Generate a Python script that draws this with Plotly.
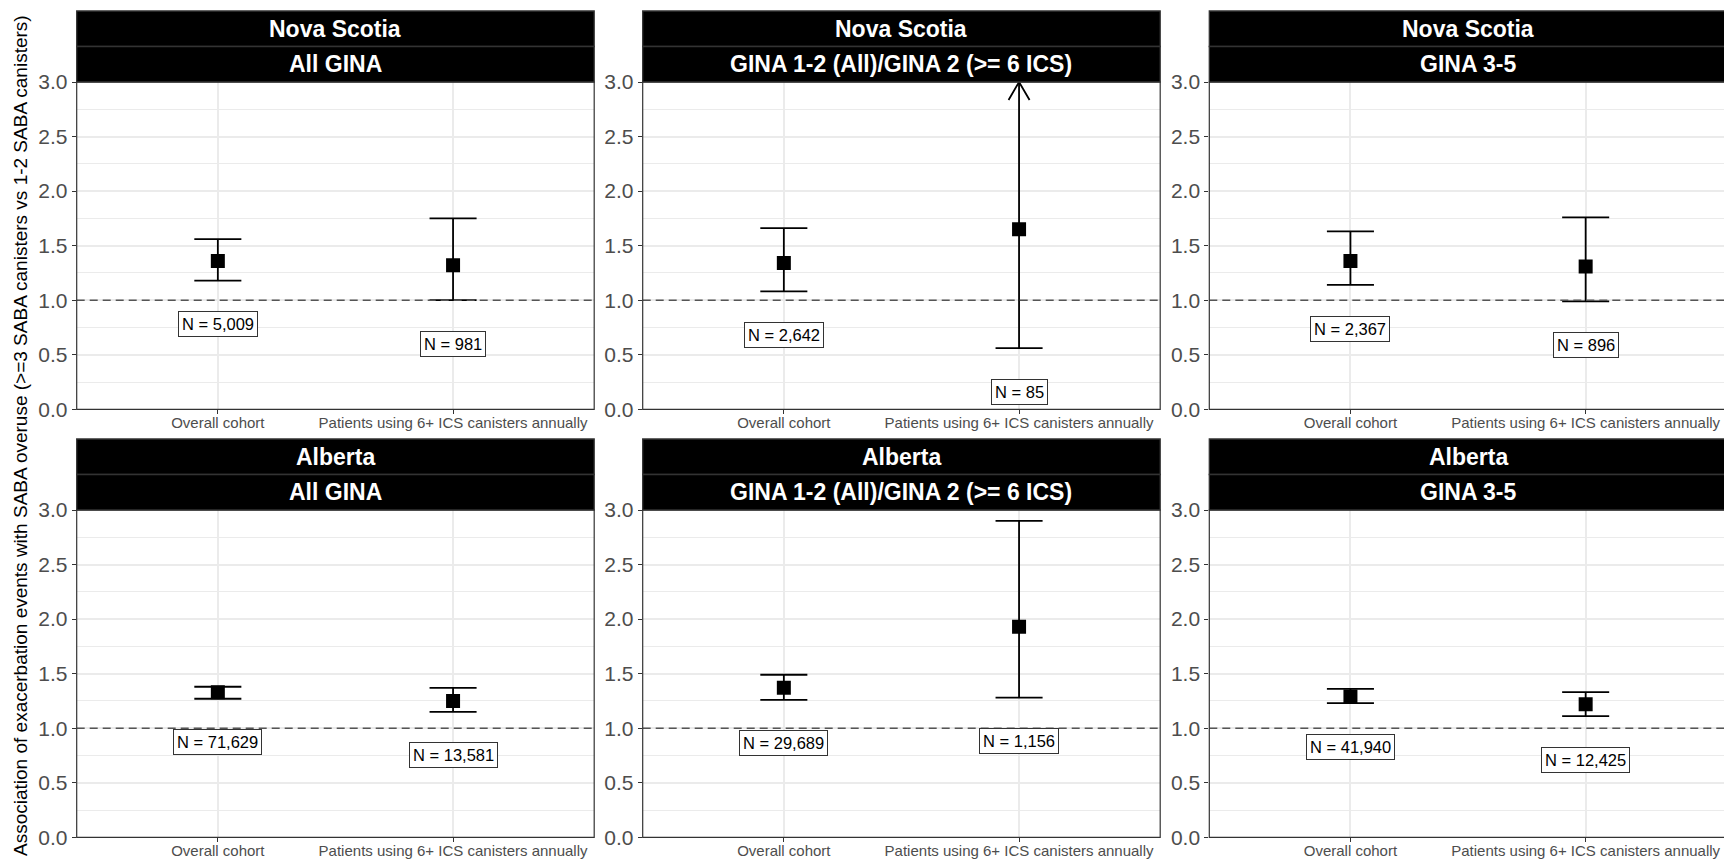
import plotly.graph_objects as go

# ---- data -------------------------------------------------------------
panel_province = ["Nova Scotia", "Nova Scotia", "Nova Scotia", "Alberta", "Alberta", "Alberta"]
panel_group = ["All GINA", "GINA 1-2 (All)/GINA 2 (>= 6 ICS)", "GINA 3-5",
               "All GINA", "GINA 1-2 (All)/GINA 2 (>= 6 ICS)", "GINA 3-5"]
cohorts = ["Overall cohort", "Patients using 6+ ICS canisters annually"]

estimate = [[1.36, 1.32], [1.34, 1.65], [1.36, 1.31],
            [1.33, 1.25], [1.37, 1.93], [1.29, 1.22]]
ci_low = [[1.18, 1.00], [1.08, 0.56], [1.14, 0.99],
          [1.27, 1.15], [1.26, 1.28], [1.23, 1.11]]
ci_high = [[1.56, 1.75], [1.66, 4.84], [1.63, 1.76],
           [1.38, 1.37], [1.49, 2.90], [1.36, 1.33]]
n_patients = [[5009, 981], [2642, 85], [2367, 896],
              [71629, 13581], [29689, 1156], [41940, 12425]]

y_title = ("Association of exacerbation events with SABA overuse "
           "(>=3 SABA canisters vs 1-2 SABA canisters)")

# ---- page geometry (pixels) --------------------------------------------
W, H = 1724, 861
col_left = [76.7, 642.7, 1209.3]
panel_w = 517.5
row_top = [82.0, 510.0]
panel_h = 327.3
strip_h = 35.5
Y_MAX = 3.0
X_LO, X_SPAN = 0.4, 2.2          # discrete axis padding of 0.6 on each side
CAP_HALF = 0.1                   # error bar cap half-width, in category units
LABEL_DROP = 0.4                 # N label sits below the lower limit

FONT = "Liberation Sans, Arial, sans-serif"
GRID = "#EBEBEB"
BORDER = "#333333"
TICKTXT = "#4D4D4D"

fig = go.Figure()
shapes = []
annotations = []

for i in range(6):
    r, c = divmod(i, 3)
    k = "" if i == 0 else str(i + 1)
    left = col_left[c]
    right_vis = min(left + panel_w, W)
    top = row_top[r]
    bottom = top + panel_h

    x_hi = X_LO + X_SPAN * (right_vis - left) / panel_w
    xdom = [left / W, right_vis / W]
    ydom = [1 - bottom / H, 1 - top / H]

    fig.layout["xaxis" + k] = dict(
        domain=xdom, range=[X_LO, x_hi], anchor="y" + k, automargin=False,
        tickvals=[1, 2], ticktext=cohorts,
        showgrid=True, gridcolor=GRID, gridwidth=1.5, zeroline=False,
        ticks="outside", ticklen=4, tickwidth=1.2, tickcolor=BORDER,
        ticklabelstandoff=-4,
        tickfont=dict(family=FONT, size=15, color=TICKTXT),
        showline=False, fixedrange=True,
    )
    fig.layout["yaxis" + k] = dict(
        domain=ydom, range=[0, Y_MAX], anchor="x" + k, automargin=False,
        tickvals=[0, 0.5, 1.0, 1.5, 2.0, 2.5, 3.0],
        ticktext=["0.0", "0.5", "1.0", "1.5", "2.0", "2.5", "3.0"],
        showgrid=True, gridcolor=GRID, gridwidth=1.5, zeroline=False,
        minor=dict(tick0=0.25, dtick=0.5, showgrid=True, gridcolor=GRID, gridwidth=0.8),
        ticks="outside", ticklen=4, tickwidth=1.2, tickcolor=BORDER,
        tickfont=dict(family=FONT, size=21, color=TICKTXT),
        showline=False, fixedrange=True,
    )

    # reference line at a ratio of 1
    shapes.append(dict(type="line", xref="x" + k + " domain", yref="y" + k,
                       x0=0, x1=1, y0=1, y1=1, layer="above",
                       line=dict(color="#555555", width=1.5, dash="8px,5px")))

    # confidence interval whiskers, capped at the axis limit
    ex, ey = [], []
    for j in range(2):
        xc = j + 1
        lo, hi = ci_low[i][j], ci_high[i][j]
        ex += [xc, xc, None]
        ey += [lo, min(hi, Y_MAX), None]
        ex += [xc - CAP_HALF, xc + CAP_HALF, None]
        ey += [lo, lo, None]
        if hi <= Y_MAX:
            ex += [xc - CAP_HALF, xc + CAP_HALF, None]
            ey += [hi, hi, None]
        else:
            # open arrow head marking a truncated upper limit
            adx = 10.5 * X_SPAN / panel_w
            ady = 18.0 * Y_MAX / panel_h
            ex += [xc - adx, xc, xc + adx, None]
            ey += [Y_MAX - ady, Y_MAX, Y_MAX - ady, None]
    fig.add_trace(go.Scatter(x=ex, y=ey, mode="lines", xaxis="x" + k, yaxis="y" + k,
                             line=dict(color="black", width=1.8), hoverinfo="skip",
                             showlegend=False))

    # point estimates
    fig.add_trace(go.Scatter(x=[1, 2], y=estimate[i], mode="markers",
                             xaxis="x" + k, yaxis="y" + k,
                             marker=dict(symbol="square", size=14, color="black"),
                             showlegend=False))

    # sample size labels
    for j in range(2):
        annotations.append(dict(
            x=j + 1, y=ci_low[i][j] - LABEL_DROP, xref="x" + k, yref="y" + k,
            text=f"N = {n_patients[i][j]:,}", showarrow=False,
            font=dict(family=FONT, size=16.5, color="black"),
            bgcolor="white", bordercolor=BORDER, borderwidth=1, borderpad=3,
        ))

    # panel border
    shapes.append(dict(type="rect", xref="paper", yref="paper", layer="above",
                       x0=left / W, x1=(left + panel_w) / W, y0=ydom[0], y1=ydom[1],
                       line=dict(color=BORDER, width=1.2), fillcolor="rgba(0,0,0,0)"))

    # two-level facet strips
    for s, label in enumerate([panel_province[i], panel_group[i]]):
        s_top = top - strip_h * (2 - s)
        s_bot = s_top + strip_h
        shapes.append(dict(type="rect", xref="paper", yref="paper", layer="above",
                           x0=left / W, x1=(left + panel_w) / W,
                           y0=1 - s_bot / H, y1=1 - s_top / H,
                           fillcolor="black", line=dict(color=BORDER, width=1.3)))
        annotations.append(dict(
            x=(left + panel_w / 2) / W, y=1 - (s_top + s_bot) / 2 / H,
            xref="paper", yref="paper", showarrow=False,
            text=f"<b>{label}</b>", xanchor="center", yanchor="middle",
            font=dict(family=FONT, size=23, color="white"),
        ))

# shared y-axis title
annotations.append(dict(
    x=21 / W, y=1 - 436 / H, xref="paper", yref="paper", showarrow=False,
    text=y_title, textangle=-90, xanchor="center", yanchor="middle",
    font=dict(family=FONT, size=19, color="black"),
))

fig.update_layout(
    width=W, height=H, margin=dict(l=0, r=0, t=0, b=0, autoexpand=False),
    paper_bgcolor="white", plot_bgcolor="white",
    shapes=shapes, annotations=annotations, showlegend=False,
)

fig.write_html("out.html")
